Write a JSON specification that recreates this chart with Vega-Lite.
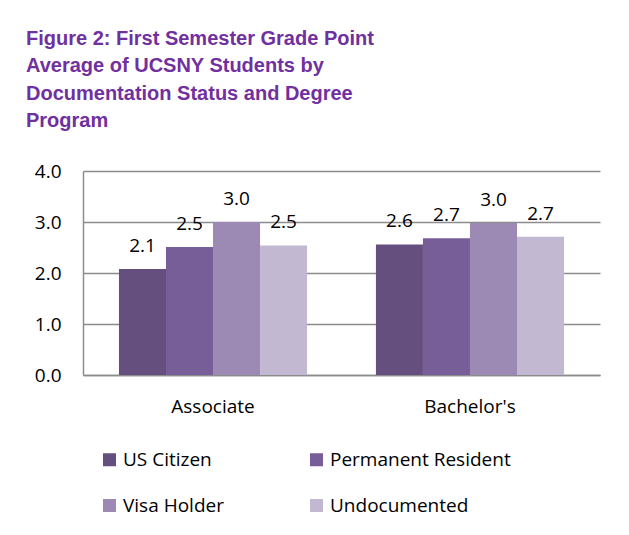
{
  "$schema": "https://vega.github.io/schema/vega-lite/v6.json",
  "width": 517,
  "height": 204,
  "autosize": {"type": "none"},
  "padding": {"left": 83, "top": 171, "right": 29, "bottom": 160},
  "background": "white",
  "config": {"view": {"stroke": null}},
  "title": {
    "text": ["Figure 2: First Semester Grade Point", "Average of UCSNY Students by", "Documentation Status and Degree", "Program"],
    "anchor": "start",
    "frame": "group",
    "font": "Liberation Sans",
    "fontWeight": "bold",
    "fontSize": 20,
    "color": "#7030A0",
    "lineHeight": 27.5,
    "dx": -57,
    "offset": 31
  },
  "data": {
    "values": [
      {"program": "Associate", "status": "US Citizen", "gpa": 2.08},
      {"program": "Associate", "status": "Permanent Resident", "gpa": 2.51},
      {"program": "Associate", "status": "Visa Holder", "gpa": 3.0},
      {"program": "Associate", "status": "Undocumented", "gpa": 2.54},
      {"program": "Bachelor's", "status": "US Citizen", "gpa": 2.56},
      {"program": "Bachelor's", "status": "Permanent Resident", "gpa": 2.68},
      {"program": "Bachelor's", "status": "Visa Holder", "gpa": 2.98},
      {"program": "Bachelor's", "status": "Undocumented", "gpa": 2.71}
    ]
  },
  "encoding": {
    "x": {
      "field": "program",
      "type": "nominal",
      "sort": ["Associate", "Bachelor's"],
      "scale": {"paddingInner": 0.268, "paddingOuter": 0.14},
      "axis": {
        "title": null,
        "labelAngle": 0,
        "labelFont": "Open Sans",
        "labelFontSize": 19,
        "labelColor": "#000000",
        "labelPadding": 22,
        "ticks": false,
        "domainColor": "#8c8c8c",
        "domainWidth": 1.5
      }
    },
    "xOffset": {
      "field": "status",
      "type": "nominal",
      "sort": ["US Citizen", "Permanent Resident", "Visa Holder", "Undocumented"],
      "scale": {"paddingInner": 0, "paddingOuter": 0}
    },
    "y": {
      "field": "gpa",
      "type": "quantitative",
      "scale": {"domain": [0, 4], "nice": false},
      "axis": {
        "title": null,
        "values": [0, 1, 2, 3, 4],
        "format": ".1f",
        "labelFont": "Open Sans",
        "labelFontSize": 19,
        "labelColor": "#000000",
        "labelPadding": 22,
        "ticks": false,
        "grid": true,
        "gridColor": "#8c8c8c",
        "gridWidth": 1.5,
        "domainColor": "#8c8c8c",
        "domainWidth": 1.5
      }
    }
  },
  "layer": [
    {
      "mark": {"type": "bar"},
      "encoding": {
        "color": {
          "field": "status",
          "type": "nominal",
          "sort": ["US Citizen", "Permanent Resident", "Visa Holder", "Undocumented"],
          "scale": {
            "domain": ["US Citizen", "Permanent Resident", "Visa Holder", "Undocumented"],
            "range": ["#644f7e", "#785e98", "#9c89b4", "#c3b8d2"]
          },
          "legend": {
            "title": null,
            "orient": "none",
            "direction": "horizontal",
            "legendX": 17,
            "legendY": 279,
            "columns": 2,
            "columnPadding": 83,
            "rowPadding": 26,
            "symbolType": "square",
            "symbolSize": 169,
            "symbolStrokeWidth": 0,
            "labelFont": "Open Sans",
            "labelFontSize": 19,
            "labelColor": "#000000",
            "labelOffset": 4,
            "labelLimit": 0
          }
        }
      }
    },
    {
      "mark": {"type": "text", "baseline": "alphabetic", "dy": -17, "font": "Open Sans", "fontSize": 19, "color": "#000000"},
      "encoding": {
        "text": {"field": "gpa", "type": "quantitative", "format": ".1f"}
      }
    }
  ]
}
